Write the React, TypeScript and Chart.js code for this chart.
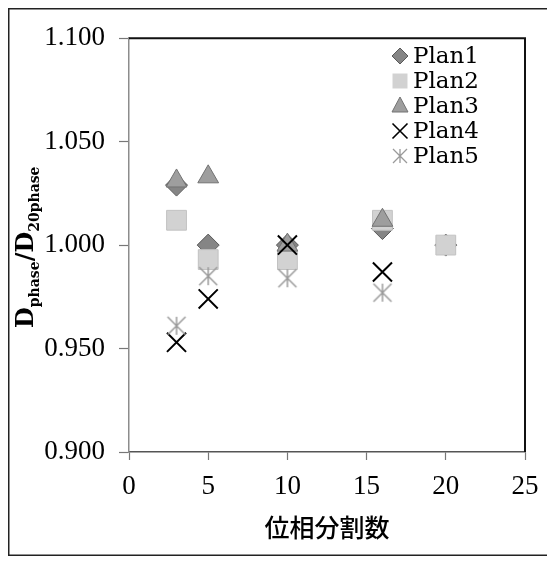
import React, { useEffect, useRef } from "react";
import { Chart, registerables } from "chart.js";

Chart.register(...registerables);

// ---- data ----
const phaseCounts = [3, 5, 10, 16, 20];
const plan1 = [1.029, 1.0, 1.0, 1.008, 1.0];
const plan2 = [1.012, 0.993, 0.993, 1.012, 1.0];
const plan3 = [1.031, 1.033, 1.0, 1.012, null];
const plan4 = [0.953, 0.974, 1.0, 0.987, null];
const plan5 = [0.961, 0.985, 0.984, 0.977, null];
const seriesNames = ["Plan1", "Plan2", "Plan3", "Plan4", "Plan5"];
const xTickValues = [0, 5, 10, 15, 20, 25];
const yTickValues = [0.9, 0.95, 1.0, 1.05, 1.1];
const xTitle = "位相分割数";
const yTitleParts = [
  { t: "D", sub: false },
  { t: "phase", sub: true },
  { t: "/", sub: false },
  { t: "D", sub: false },
  { t: "20phase", sub: true },
];

const SERIF = "'DejaVu Serif', serif";
const TICK_SERIF = "'Liberation Serif', serif";

function toPoints(ys: (number | null)[]) {
  const pts: { x: number; y: number }[] = [];
  ys.forEach((y, i) => {
    if (y !== null) pts.push({ x: phaseCounts[i], y });
  });
  return pts;
}

function makeStar(size: number, half: number, color: string, lw: number) {
  const c = document.createElement("canvas");
  c.width = size;
  c.height = size;
  const g = c.getContext("2d")!;
  const h = size / 2;
  g.strokeStyle = color;
  g.lineWidth = lw;
  g.beginPath();
  g.moveTo(h - half, h - half);
  g.lineTo(h + half, h + half);
  g.moveTo(h + half, h - half);
  g.lineTo(h - half, h + half);
  g.moveTo(h, h - half);
  g.lineTo(h, h + half);
  g.stroke();
  return c;
}

const styles = [
  { fill: "#858585", stroke: "#5a5a5a" },
  { fill: "#d2d2d2", stroke: "#c2c2c2" },
  { fill: "#9e9e9e", stroke: "#727272" },
  { fill: "#000000", stroke: "#000000" },
  { fill: "#9a9a9a", stroke: "#9a9a9a" },
];

function drawLegendMarker(ctx: CanvasRenderingContext2D, i: number, x: number, y: number) {
  const s = styles[i];
  ctx.save();
  ctx.fillStyle = s.fill;
  ctx.strokeStyle = s.stroke;
  ctx.lineWidth = 1;
  ctx.beginPath();
  if (i === 0) {
    const r = 8;
    ctx.moveTo(x, y - r);
    ctx.lineTo(x + r, y);
    ctx.lineTo(x, y + r);
    ctx.lineTo(x - r, y);
    ctx.closePath();
    ctx.fill();
    ctx.stroke();
  } else if (i === 1) {
    ctx.rect(x - 7.5, y - 7.5, 15, 15);
    ctx.fill();
  } else if (i === 2) {
    ctx.moveTo(x, y - 9);
    ctx.lineTo(x + 8, y + 6);
    ctx.lineTo(x - 8, y + 6);
    ctx.closePath();
    ctx.fill();
    ctx.stroke();
  } else if (i === 3) {
    ctx.lineWidth = 1.6;
    ctx.moveTo(x - 7.5, y - 7.5);
    ctx.lineTo(x + 7.5, y + 7.5);
    ctx.moveTo(x + 7.5, y - 7.5);
    ctx.lineTo(x - 7.5, y + 7.5);
    ctx.stroke();
  } else {
    ctx.lineWidth = 1.3;
    ctx.moveTo(x - 7, y - 7);
    ctx.lineTo(x + 7, y + 7);
    ctx.moveTo(x + 7, y - 7);
    ctx.lineTo(x - 7, y + 7);
    ctx.moveTo(x, y - 7);
    ctx.lineTo(x, y + 7);
    ctx.stroke();
  }
  ctx.restore();
}

const framePlugin = {
  id: "framePlugin",
  afterDraw(chart: any) {
    const { ctx, chartArea, width, height } = chart;
    ctx.save();
    // outer frame (its right edge lies beyond the picture)
    ctx.strokeStyle = "#222";
    ctx.lineWidth = 1.5;
    ctx.beginPath();
    ctx.moveTo(width, 0.75);
    ctx.lineTo(0.75, 0.75);
    ctx.lineTo(0.75, height - 0.75);
    ctx.lineTo(width, height - 0.75);
    ctx.stroke();
    // plot area top/right border
    ctx.strokeStyle = "#111";
    ctx.lineWidth = 2;
    ctx.beginPath();
    ctx.moveTo(chartArea.left, chartArea.top);
    ctx.lineTo(chartArea.right, chartArea.top);
    ctx.lineTo(chartArea.right, chartArea.bottom);
    ctx.stroke();

    // legend
    chart.data.datasets.forEach((ds: any, i: number) => {
      const cy = 48 + i * 25;
      drawLegendMarker(ctx, i, 392, cy);
      ctx.fillStyle = "#000";
      ctx.font = `23px ${SERIF}`;
      ctx.textAlign = "left";
      ctx.textBaseline = "middle";
      ctx.fillText(ds.label, 405, cy + 1);
    });

    // y-axis title with subscripts
    const bigFont = `bold 24px ${SERIF}`;
    const subFont = `bold 14px ${SERIF}`;
    const startY = 320;
    ctx.translate(25, startY);
    ctx.rotate(-Math.PI / 2);
    ctx.fillStyle = "#000";
    ctx.textAlign = "left";
    ctx.textBaseline = "alphabetic";
    let xx = 0;
    yTitleParts.forEach((p) => {
      ctx.font = p.sub ? subFont : bigFont;
      ctx.fillText(p.t, xx, p.sub ? 6 : 0);
      xx += ctx.measureText(p.t).width;
    });
    ctx.restore();
  },
};

export default function App() {
  const ref = useRef<HTMLCanvasElement | null>(null);

  useEffect(() => {
    if (!ref.current) return;
    const star = makeStar(22, 9, styles[4].stroke, 1.5);
    const chart = new Chart(ref.current, {
      type: "scatter",
      data: {
        datasets: [
          {
            label: seriesNames[0],
            data: toPoints(plan1),
            pointStyle: "rectRot",
            pointRadius: 11,
            backgroundColor: styles[0].fill,
            borderColor: styles[0].stroke,
            borderWidth: 1,
            order: 5,
          },
          {
            label: seriesNames[1],
            data: toPoints(plan2),
            pointStyle: "rect",
            pointRadius: 14,
            backgroundColor: styles[1].fill,
            borderColor: styles[1].stroke,
            borderWidth: 1,
            order: 4,
          },
          {
            label: seriesNames[2],
            data: toPoints(plan3),
            pointStyle: "triangle",
            pointRadius: 12,
            backgroundColor: styles[2].fill,
            borderColor: styles[2].stroke,
            borderWidth: 1,
            order: 3,
          },
          {
            label: seriesNames[3],
            data: toPoints(plan4),
            pointStyle: "crossRot",
            pointRadius: 13.5,
            backgroundColor: styles[3].fill,
            borderColor: styles[3].stroke,
            borderWidth: 2,
            order: 2,
          },
          {
            label: seriesNames[4],
            data: toPoints(plan5),
            pointStyle: star as any,
            pointRadius: 10,
            backgroundColor: styles[4].fill,
            borderColor: styles[4].stroke,
            order: 1,
          },
        ],
      },
      options: {
        responsive: false,
        animation: false,
        devicePixelRatio: 1,
        layout: { padding: { top: 30, right: 30, left: 0, bottom: 0 } },
        plugins: {
          legend: { display: false },
          tooltip: { enabled: false },
        },
        scales: {
          x: {
            type: "linear",
            min: 0,
            max: 25,
            afterFit: (s: any) => {
              s.height = 104;
            },
            afterBuildTicks: (s: any) => {
              s.ticks = xTickValues.map((v) => ({ value: v }));
            },
            ticks: {
              color: "#000",
              font: { family: TICK_SERIF, size: 27 },
              padding: 11,
              maxRotation: 0,
              callback: (v: any) => String(v),
            },
            grid: {
              drawOnChartArea: false,
              drawTicks: true,
              tickLength: 8,
              tickColor: "#777",
              tickWidth: 1.2,
            },
            border: { color: "#555", width: 1.5 },
            title: {
              display: true,
              text: xTitle,
              color: "#000",
              font: { family: "'Noto Sans CJK JP'", size: 25, weight: "500" },
              padding: { top: 0, bottom: 14 },
            },
          },
          y: {
            type: "linear",
            min: 0.9,
            max: 1.1,
            afterFit: (s: any) => {
              s.width = 121;
            },
            afterBuildTicks: (s: any) => {
              s.ticks = yTickValues.map((v) => ({ value: v }));
            },
            ticks: {
              color: "#000",
              font: { family: TICK_SERIF, size: 27 },
              padding: 14,
              callback: (v: any) => Number(v).toFixed(3),
            },
            grid: {
              drawOnChartArea: false,
              drawTicks: true,
              tickLength: 10,
              tickColor: "#777",
              tickWidth: 1.2,
            },
            border: { color: "#8c8c8c", width: 1.5 },
          },
        },
      },
      plugins: [framePlugin],
    });
    return () => chart.destroy();
  }, []);

  return (
    <div style={{ width: 547, height: 548 }}>
      <canvas ref={ref} width={547} height={548} style={{ display: "block" }} />
    </div>
  );
}
